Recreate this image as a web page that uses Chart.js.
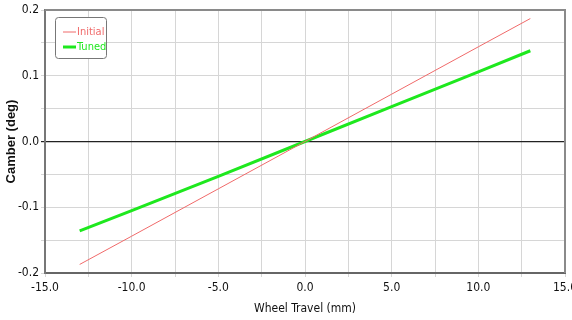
<!DOCTYPE html>
<html>
<head>
<meta charset="utf-8">
<script src="https://cdn.jsdelivr.net/npm/chart.js@4.4.1/dist/chart.umd.min.js"></script>
<style>
  html, body { margin: 0; padding: 0; background: #fff; }
  #wrap { width: 572px; height: 320px; }
</style>
</head>
<body>
<div id="wrap"><canvas id="chart"></canvas></div>
<script>
// wheel travel (mm)
const travel = [-13, -10, -5, 0, 5, 10, 13];
// camber (deg)
const initialCamber = [-0.187, -0.144, -0.072, 0.0, 0.072, 0.144, 0.187];
const tunedCamber = [-0.136, -0.105, -0.053, 0.0, 0.053, 0.106, 0.138];
const seriesNames = ['Initial', 'Tuned'];

const narrow = '"DejaVu Sans Condensed", "Liberation Sans Narrow", "Liberation Sans", Arial, sans-serif';

// frame + legend box inside the plot, like the original tool
const framePlugin = {
    id: 'frame',
    afterDraw(chart) {
        const ctx = chart.ctx;
        const a = chart.chartArea;
        ctx.save();
        ctx.strokeStyle = '#8a8a8a';
        ctx.lineWidth = 2;
        ctx.beginPath();
        ctx.moveTo(a.left, a.top);
        ctx.lineTo(a.right, a.top);
        ctx.lineTo(a.right, a.bottom);
        ctx.stroke();

        // legend
        const x = a.left + 10, y = a.top + 7, w = 51, h = 41;
        ctx.fillStyle = '#fff';
        ctx.strokeStyle = '#777';
        ctx.lineWidth = 1;
        ctx.beginPath();
        ctx.roundRect(x + 0.5, y + 0.5, w, h, 3);
        ctx.fill();
        ctx.stroke();
        ctx.font = '11px ' + narrow;
        ctx.textBaseline = 'middle';
        chart.data.datasets.forEach((ds, i) => {
            const ly = y + 15 + i * 15;
            ctx.strokeStyle = ds.borderColor;
            ctx.lineWidth = ds.borderWidth;
            ctx.beginPath();
            ctx.moveTo(x + 8, ly);
            ctx.lineTo(x + 21, ly);
            ctx.stroke();
            ctx.fillStyle = ds.borderColor;
            ctx.fillText(ds.label, x + 22, ly);
        });
        ctx.restore();
    }
};

new Chart(document.getElementById('chart'), {
    type: 'line',
    data: {
        labels: travel,
        datasets: [{
            label: seriesNames[0],
            data: travel.map((t, i) => ({ x: t, y: initialCamber[i] })),
            borderColor: '#f06a6a',
            borderWidth: 1,
            pointRadius: 0,
            tension: 0
        }, {
            label: seriesNames[1],
            data: travel.map((t, i) => ({ x: t, y: tunedCamber[i] })),
            borderColor: '#1ee81e',
            borderWidth: 3,
            pointRadius: 0,
            tension: 0
        }]
    },
    options: {
        responsive: true,
        maintainAspectRatio: false,
        animation: false,
        layout: { padding: { top: 10, right: 7, left: 0, bottom: 0 } },
        plugins: {
            legend: { display: false },
            tooltip: { enabled: false }
        },
        scales: {
            x: {
                type: 'linear',
                min: -15,
                max: 15,
                ticks: {
                    stepSize: 2.5,
                    maxRotation: 0,
                    autoSkip: false,
                    color: '#111',
                    font: { family: narrow, size: 12 },
                    padding: 4,
                    callback: v => (Math.abs(v % 5) < 1e-9 ? v.toFixed(1) : '')
                },
                grid: { color: '#d6d6d6', tickLength: 4 },
                border: { color: '#666', width: 2 },
                title: {
                    display: true,
                    text: 'Wheel Travel (mm)',
                    color: '#111',
                    font: { family: narrow, size: 12 },
                    padding: { top: 3 }
                },
                afterFit: s => { s.height = 47; s.paddingLeft = 0; s.paddingRight = 0; }
            },
            y: {
                min: -0.2,
                max: 0.2,
                ticks: {
                    stepSize: 0.05,
                    autoSkip: false,
                    color: '#111',
                    font: { family: narrow, size: 12 },
                    padding: 2,
                    callback: v => {
                        const r = Math.round(v * 100);
                        return r % 10 === 0 ? (r / 100).toFixed(1) : '';
                    }
                },
                grid: {
                    tickLength: 4,
                    color: ctx => (ctx.tick && Math.abs(ctx.tick.value) < 1e-9 ? '#222' : '#d6d6d6'),
                    lineWidth: ctx => (ctx.tick && Math.abs(ctx.tick.value) < 1e-9 ? 1.2 : 1)
                },
                border: { color: '#777', width: 2 },
                title: {
                    display: true,
                    text: 'Camber (deg)',
                    color: '#111',
                    font: { family: '"Liberation Sans", Arial, sans-serif', size: 13, weight: 'bold' },
                    padding: { bottom: 3 }
                },
                afterFit: s => { s.width = 45; s.paddingTop = 0; s.paddingBottom = 0; }
            }
        }
    },
    plugins: [framePlugin]
});
</script>
</body>
</html>
